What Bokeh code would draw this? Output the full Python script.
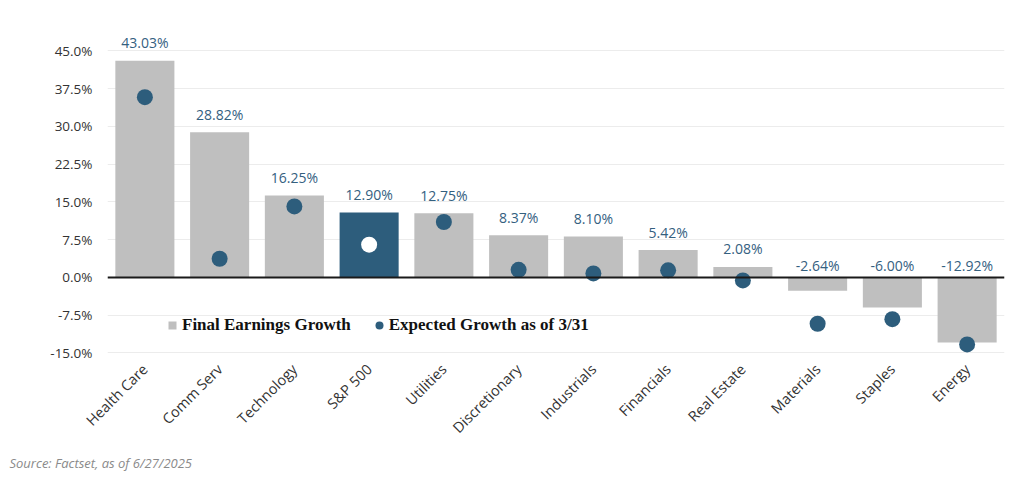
import numpy as np
from bokeh.plotting import figure
from bokeh.models import (ColumnDataSource, FixedTicker, PrintfTickFormatter, Span,
                          Legend, LegendItem, Title, Range1d)
from bokeh.core.properties import value
from bokeh.embed import file_html
from bokeh.resources import INLINE

# ---- data ----
categories = ["Health Care", "Comm Serv", "Technology", "S&P 500", "Utilities",
              "Discretionary", "Industrials", "Financials", "Real Estate",
              "Materials", "Staples", "Energy"]
final_growth = [43.03, 28.82, 16.25, 12.90, 12.75, 8.37, 8.10, 5.42, 2.08,
                -2.64, -6.00, -12.92]
expected_growth = [35.8, 3.7, 14.1, 6.5, 11.0, 1.5, 0.8, 1.4, -0.6,
                   -9.2, -8.3, -13.3]
y_ticks = [-15.0, -7.5, 0.0, 7.5, 15.0, 22.5, 30.0, 37.5, 45.0]
highlight = "S&P 500"

# ---- style ----
GRAY = "#bfbfbf"
BLUE = "#2d5d7c"
LABEL_BLUE = "#34607f"
W, H = 1016, 476
BORDER_L, BORDER_R, BORDER_T, BORDER_B = 107, 12, 8, 116
Y0, Y1 = -16.5, 53.4
frame_h = H - BORDER_T - BORDER_B
px = frame_h / (Y1 - Y0)

fg = np.array(final_growth)
bar_colors = [BLUE if c == highlight else GRAY for c in categories]
dot_colors = ["white" if c == highlight else BLUE for c in categories]
lab_y = np.where(fg >= 0, fg + 18 / px, 12 / px)
labels = [f"{v:.2f}%" for v in final_growth]

src = ColumnDataSource(dict(cat=categories, final=final_growth, exp=expected_growth,
                            bc=bar_colors, dc=dot_colors, ly=lab_y, lab=labels))

p = figure(x_range=categories, y_range=Range1d(Y0, Y1), width=W, height=H,
           output_backend="svg", toolbar_location=None,
           min_border_left=BORDER_L, min_border_right=BORDER_R,
           min_border_top=BORDER_T, min_border_bottom=BORDER_B)
p.outline_line_color = None
p.background_fill_color = "white"

bars = p.vbar(x="cat", top="final", bottom=0, width=0.79, source=src,
              fill_color="bc", line_color=None)
zero = Span(location=0, dimension="width", line_color="#1a1a1a", line_width=2)
p.add_layout(zero)
dots = p.scatter(x="cat", y="exp", size=16, source=src, fill_color="dc",
                 line_color=None, marker="circle")
p.text(x="cat", y="ly", text="lab", source=src, text_align="center",
       text_baseline="middle", text_color=LABEL_BLUE,
       text_font=value("Open Sans"), text_font_size="14px")

# legend proxy for the bar series (small square marker, no visible point)
sq = p.scatter(x=[categories[0]], y=[float("nan")], marker="square",
               fill_color=GRAY, line_color=None, size=8)

legend = Legend(items=[LegendItem(label="Final Earnings Growth", renderers=[sq]),
                       LegendItem(label="Expected Growth as of 3/31", renderers=[dots])],
                orientation="horizontal", location=(55, 25),
                glyph_width=20, glyph_height=20, label_standoff=0, spacing=18,
                padding=0, margin=0, background_fill_alpha=0,
                border_line_color=None,
                label_text_font="Liberation Serif", label_text_font_style="bold",
                label_text_font_size="17px", label_text_color="#111111")
p.add_layout(legend, "center")

# axes
p.yaxis.ticker = FixedTicker(ticks=y_ticks)
p.yaxis.formatter = PrintfTickFormatter(format="%.1f%%")
p.yaxis.axis_line_color = None
p.yaxis.major_tick_line_color = None
p.yaxis.minor_tick_line_color = None
p.yaxis.major_tick_out = 0
p.yaxis.major_label_standoff = 15
p.yaxis.major_label_text_font = "Open Sans"
p.yaxis.major_label_text_font_size = "13.5px"
p.yaxis.major_label_text_color = "#333333"

p.xaxis.axis_line_color = None
p.xaxis.major_tick_line_color = None
p.xaxis.major_tick_out = 0
p.xaxis.major_label_standoff = 6
p.xaxis.major_label_orientation = np.pi / 4
p.xaxis.major_label_text_font = "Open Sans"
p.xaxis.major_label_text_font_size = "14.5px"
p.xaxis.major_label_text_color = "#333333"

p.xgrid.grid_line_color = None
p.ygrid.ticker = FixedTicker(ticks=y_ticks)
p.ygrid.grid_line_color = "#ececec"
p.ygrid.grid_line_width = 1

src_title = Title(text="Source: Factset, as of 6/27/2025", align="left",
                  text_font="Open Sans", text_font_style="italic",
                  text_font_size="13px", text_color="#8a8a8a", offset=-98,
                  standoff=10)
p.add_layout(src_title, "below")

open("out.html", "w").write(file_html(p, INLINE))
